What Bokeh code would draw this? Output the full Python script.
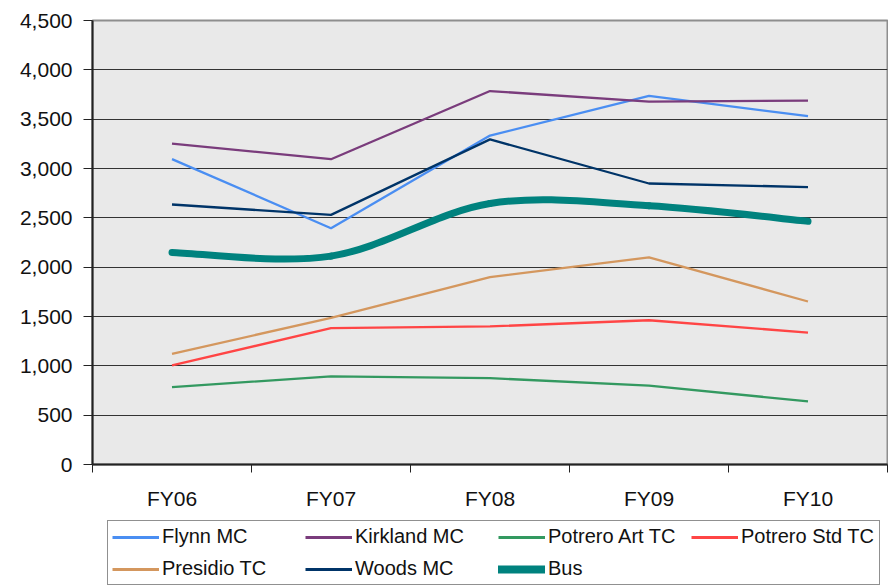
from bokeh.plotting import figure
from bokeh.layouts import column
from bokeh.models import Range1d, FixedTicker, NumeralTickFormatter, Legend, LegendItem, ColumnDataSource
from bokeh.embed import file_html
from bokeh.resources import INLINE

categories = ["FY06", "FY07", "FY08", "FY09", "FY10"]
flynn = [3095, 2395, 3334, 3735, 3530]
kirkland = [3253, 3094, 3785, 3678, 3688]
potrero_art = [784, 893, 875, 800, 640]
potrero_std = [1004, 1382, 1399, 1462, 1337]
presidio = [1122, 1486, 1899, 2100, 1652]
woods = [2635, 2530, 3295, 2848, 2812]
bus = [2149, 2112, 2645, 2622, 2465]
y_ticks = [0, 500, 1000, 1500, 2000, 2500, 3000, 3500, 4000, 4500]

series = [
    ("Flynn MC", flynn, "#4a8ef2"),
    ("Kirkland MC", kirkland, "#7a3c7c"),
    ("Potrero Art TC", potrero_art, "#339960"),
    ("Potrero Std TC", potrero_std, "#ff4545"),
    ("Presidio TC", presidio, "#d4975e"),
    ("Woods MC", woods, "#003468"),
]
bus_name, bus_color = "Bus", "#00827e"

xs = [i + 0.5 for i in range(len(categories))]
bounds = list(range(len(categories) + 1))

p = figure(width=888, height=514, output_backend="svg", toolbar_location=None,
           x_range=Range1d(0, len(categories)), y_range=Range1d(0, 4500),
           min_border_left=92, min_border_right=1, min_border_top=20, min_border_bottom=50)
p.background_fill_color = "#e9e9e9"
p.border_fill_color = "white"
p.outline_line_color = "#8e8e8e"
p.outline_line_width = 2

for name, vals, col in series:
    p.line(xs, vals, line_color=col, line_width=2.3)

# Smoothed Bus line (Excel-style smoothing through the data points)
n = len(bus)
x0, y0, x1, y1, cx0, cy0, cx1, cy1 = [], [], [], [], [], [], [], []
for i in range(n - 1):
    xp, yp = (xs[i - 1], bus[i - 1]) if i > 0 else (xs[i], bus[i])
    xn2, yn2 = (xs[i + 2], bus[i + 2]) if i + 2 < n else (xs[i + 1], bus[i + 1])
    x0.append(xs[i]); y0.append(bus[i])
    x1.append(xs[i + 1]); y1.append(bus[i + 1])
    cx0.append(xs[i] + (xs[i + 1] - xp) / 6); cy0.append(bus[i] + (bus[i + 1] - yp) / 6)
    cx1.append(xs[i + 1] - (xn2 - xs[i]) / 6); cy1.append(bus[i + 1] - (yn2 - bus[i]) / 6)
src = ColumnDataSource(dict(x0=x0, y0=y0, x1=x1, y1=y1, cx0=cx0, cy0=cy0, cx1=cx1, cy1=cy1))
p.bezier(x0="x0", y0="y0", x1="x1", y1="y1", cx0="cx0", cy0="cy0", cx1="cx1", cy1="cy1",
         source=src, line_color=bus_color, line_width=7, line_cap="round")

# Axes
p.xaxis.ticker = FixedTicker(ticks=xs, minor_ticks=bounds)
p.xaxis.major_label_overrides = {x: c for x, c in zip(xs, categories)}
p.xaxis.major_tick_out = 0
p.xaxis.major_tick_in = 0
p.xaxis.minor_tick_out = 8
p.xaxis.minor_tick_in = 0
p.xaxis.minor_tick_line_color = "#222222"
p.xaxis.major_label_standoff = 14
p.yaxis.ticker = FixedTicker(ticks=y_ticks)
p.yaxis.formatter = NumeralTickFormatter(format="0,0")
p.yaxis.major_tick_out = 9
p.yaxis.major_tick_in = 0
p.yaxis.minor_tick_line_color = None
p.yaxis.major_label_standoff = 11
for ax in (p.xaxis, p.yaxis):
    ax.axis_line_width = 2
    ax.axis_line_color = "#222222"
    ax.major_tick_line_color = "#222222"
    ax.major_label_text_font = "Liberation Sans"
    ax.major_label_text_font_size = "21px"
    ax.major_label_text_color = "#111111"

p.xgrid.visible = False
p.ygrid.grid_line_color = "#333333"
p.ygrid.grid_line_width = 1

# Legend strip below the chart (its lines sit outside the strip's visible range)
lg = figure(width=888, height=72, output_backend="svg", toolbar_location=None,
            x_range=Range1d(0, len(categories)), y_range=Range1d(-1, 0),
            min_border_left=92, min_border_right=1, min_border_top=0, min_border_bottom=0)
lg.axis.visible = False
lg.grid.visible = False
lg.outline_line_color = None
lg.background_fill_color = "white"
lg.border_fill_color = "white"
items = []
for name, vals, col in series:
    r = lg.line(xs, vals, line_color=col, line_width=3)
    items.append(LegendItem(label=name, renderers=[r]))
rb = lg.line(xs, bus, line_color=bus_color, line_width=8, line_cap="round")
items.append(LegendItem(label=bus_name, renderers=[rb]))

legend = Legend(items=items, location=(15, 1), orientation="horizontal", ncols=4,
                label_text_font="Liberation Sans",
                label_text_font_size="20px", label_text_color="#111111",
                glyph_width=47, glyph_height=22, label_height=22, label_width=134, label_standoff=3,
                spacing=9, padding=4, margin=0,
                border_line_color="#222222", border_line_width=1, background_fill_color="white",
                background_fill_alpha=1)
lg.add_layout(legend)

open("out.html", "w").write(file_html(column(p, lg), INLINE))
